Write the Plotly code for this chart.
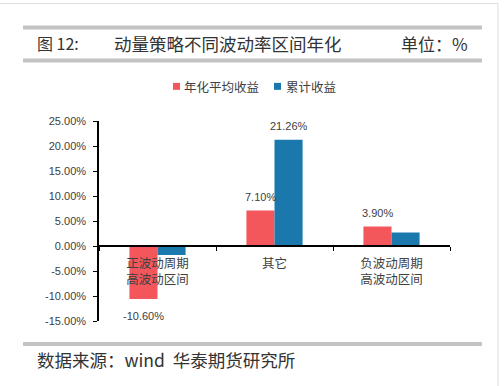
import plotly.graph_objects as go

categories = ["正波动周期<br>高波动区间", "其它", "负波动周期<br>高波动区间"]
avg_return = [-10.60, 7.10, 3.90]
cum_return = [-1.8, 21.26, 2.7]
avg_labels = ["-10.60%", "7.10%", "3.90%"]
cum_labels = ["", "21.26%", ""]
series_names = ["年化平均收益", "累计收益"]
y_ticks = [-15, -10, -5, 0, 5, 10, 15, 20, 25]
y_tick_labels = ["-15.00%", "-10.00%", "-5.00%", "0.00%", "5.00%", "10.00%", "15.00%", "20.00%", "25.00%"]

RED = "#F4575B"
BLUE = "#1B78AD"
TXT = "#404040"
CJK = "Noto Sans CJK SC"

W, H = 504, 386
L, R, T, B = 99, 450, 120.7, 321.0
BARGAP = 0.52


def px(x):
    return (x - L) / (R - L)


def py(y):
    return (B - y) / (B - T)


fig = go.Figure()
fig.add_trace(go.Bar(
    x=categories, y=avg_return, name=series_names[0], marker_color=RED,
    marker_line_width=0, hoverinfo="x+y",
))
fig.add_trace(go.Bar(
    x=categories, y=cum_return, name=series_names[1], marker_color=BLUE,
    marker_line_width=0, hoverinfo="x+y",
))

ymin, ymax = -15, 25
fig.update_layout(
    width=W, height=H,
    margin=dict(l=L, r=W - R, t=T, b=H - B, pad=0),
    paper_bgcolor="white", plot_bgcolor="white",
    barmode="group", bargap=BARGAP, bargroupgap=0,
    showlegend=False,
    xaxis=dict(
        type="category", range=[-0.5, 2.5], anchor="free",
        position=(0 - ymin) / (ymax - ymin),
        showline=True, linecolor="black", linewidth=1.5,
        ticks="outside", tickson="boundaries", ticklen=4, tickcolor="black",
        ticklabelstandoff=6,
        tickfont=dict(family=CJK, size=12.5, color=TXT),
        showgrid=False, zeroline=False, layer="above traces",
    ),
    yaxis=dict(
        range=[ymin, ymax], tickvals=y_ticks, ticktext=y_tick_labels,
        showline=True, linecolor="black", linewidth=1.5,
        ticks="outside", ticklen=4, tickcolor="black",
        ticklabelstandoff=5,
        tickfont=dict(family="Liberation Sans", size=11, color=TXT),
        showgrid=False, zeroline=False,
    ),
)

GRAY = "#C4C4C4"
shapes = [
    dict(type="rect", xref="paper", yref="paper", x0=px(-2), x1=px(498), y0=py(3), y1=py(390),
         line=dict(color="#DDDDDD", width=1), fillcolor="rgba(0,0,0,0)"),
    dict(type="line", xref="paper", yref="paper", x0=px(23), x1=px(482), y0=py(27), y1=py(27),
         line=dict(color=GRAY, width=4)),
    dict(type="line", xref="paper", yref="paper", x0=px(23), x1=px(482), y0=py(60), y1=py(60),
         line=dict(color=GRAY, width=4)),
    dict(type="line", xref="paper", yref="paper", x0=px(23), x1=px(482), y0=py(344), y1=py(344),
         line=dict(color=GRAY, width=4)),
    dict(type="rect", xref="paper", yref="paper", x0=px(173), x1=px(180), y0=py(82.5), y1=py(89.5),
         line=dict(width=0), fillcolor=RED),
    dict(type="rect", xref="paper", yref="paper", x0=px(274), x1=px(281), y0=py(82.5), y1=py(89.5),
         line=dict(width=0), fillcolor=BLUE),
]
fig.update_layout(shapes=shapes)

TITLE_C = "#333333"
ann = [
    dict(text="图 12:", x=px(35), y=py(43), xanchor="left", yanchor="middle",
         font=dict(family=CJK, size=16, color=TITLE_C)),
    dict(text="动量策略不同波动率区间年化", x=px(112), y=py(43), xanchor="left", yanchor="middle",
         font=dict(family=CJK, size=17.5, color=TITLE_C)),
    dict(text="单位：%", x=px(470), y=py(43), xanchor="right", yanchor="middle",
         font=dict(family=CJK, size=17, color=TITLE_C)),
    dict(text="数据来源：wind  华泰期货研究所", x=px(35), y=py(360), xanchor="left", yanchor="middle",
         font=dict(family=CJK, size=17.5, color=TITLE_C)),
    dict(text=series_names[0], x=px(182), y=py(86), xanchor="left", yanchor="middle",
         font=dict(family=CJK, size=12.5, color=TXT)),
    dict(text=series_names[1], x=px(284), y=py(86), xanchor="left", yanchor="middle",
         font=dict(family=CJK, size=12.5, color=TXT)),
]
for a in ann:
    a.update(xref="paper", yref="paper", showarrow=False)

# value labels placed at bar centres (grouped: two bars per category)
half = (1 - BARGAP) / 4
for series, labels, off in ((avg_return, avg_labels, -half), (cum_return, cum_labels, half)):
    for i, (v, lab) in enumerate(zip(series, labels)):
        if not lab:
            continue
        ann.append(dict(
            text=lab, x=i + off, y=v, xref="x", yref="y", showarrow=False,
            yanchor="bottom" if v >= 0 else "top",
            yshift=6 if v >= 0 else -9,
            font=dict(family="Liberation Sans", size=11, color=TXT),
        ))
fig.update_layout(annotations=ann)

fig.write_html("out.html", post_script="document.body.style.margin='0';",
               config={"displayModeBar": False})
